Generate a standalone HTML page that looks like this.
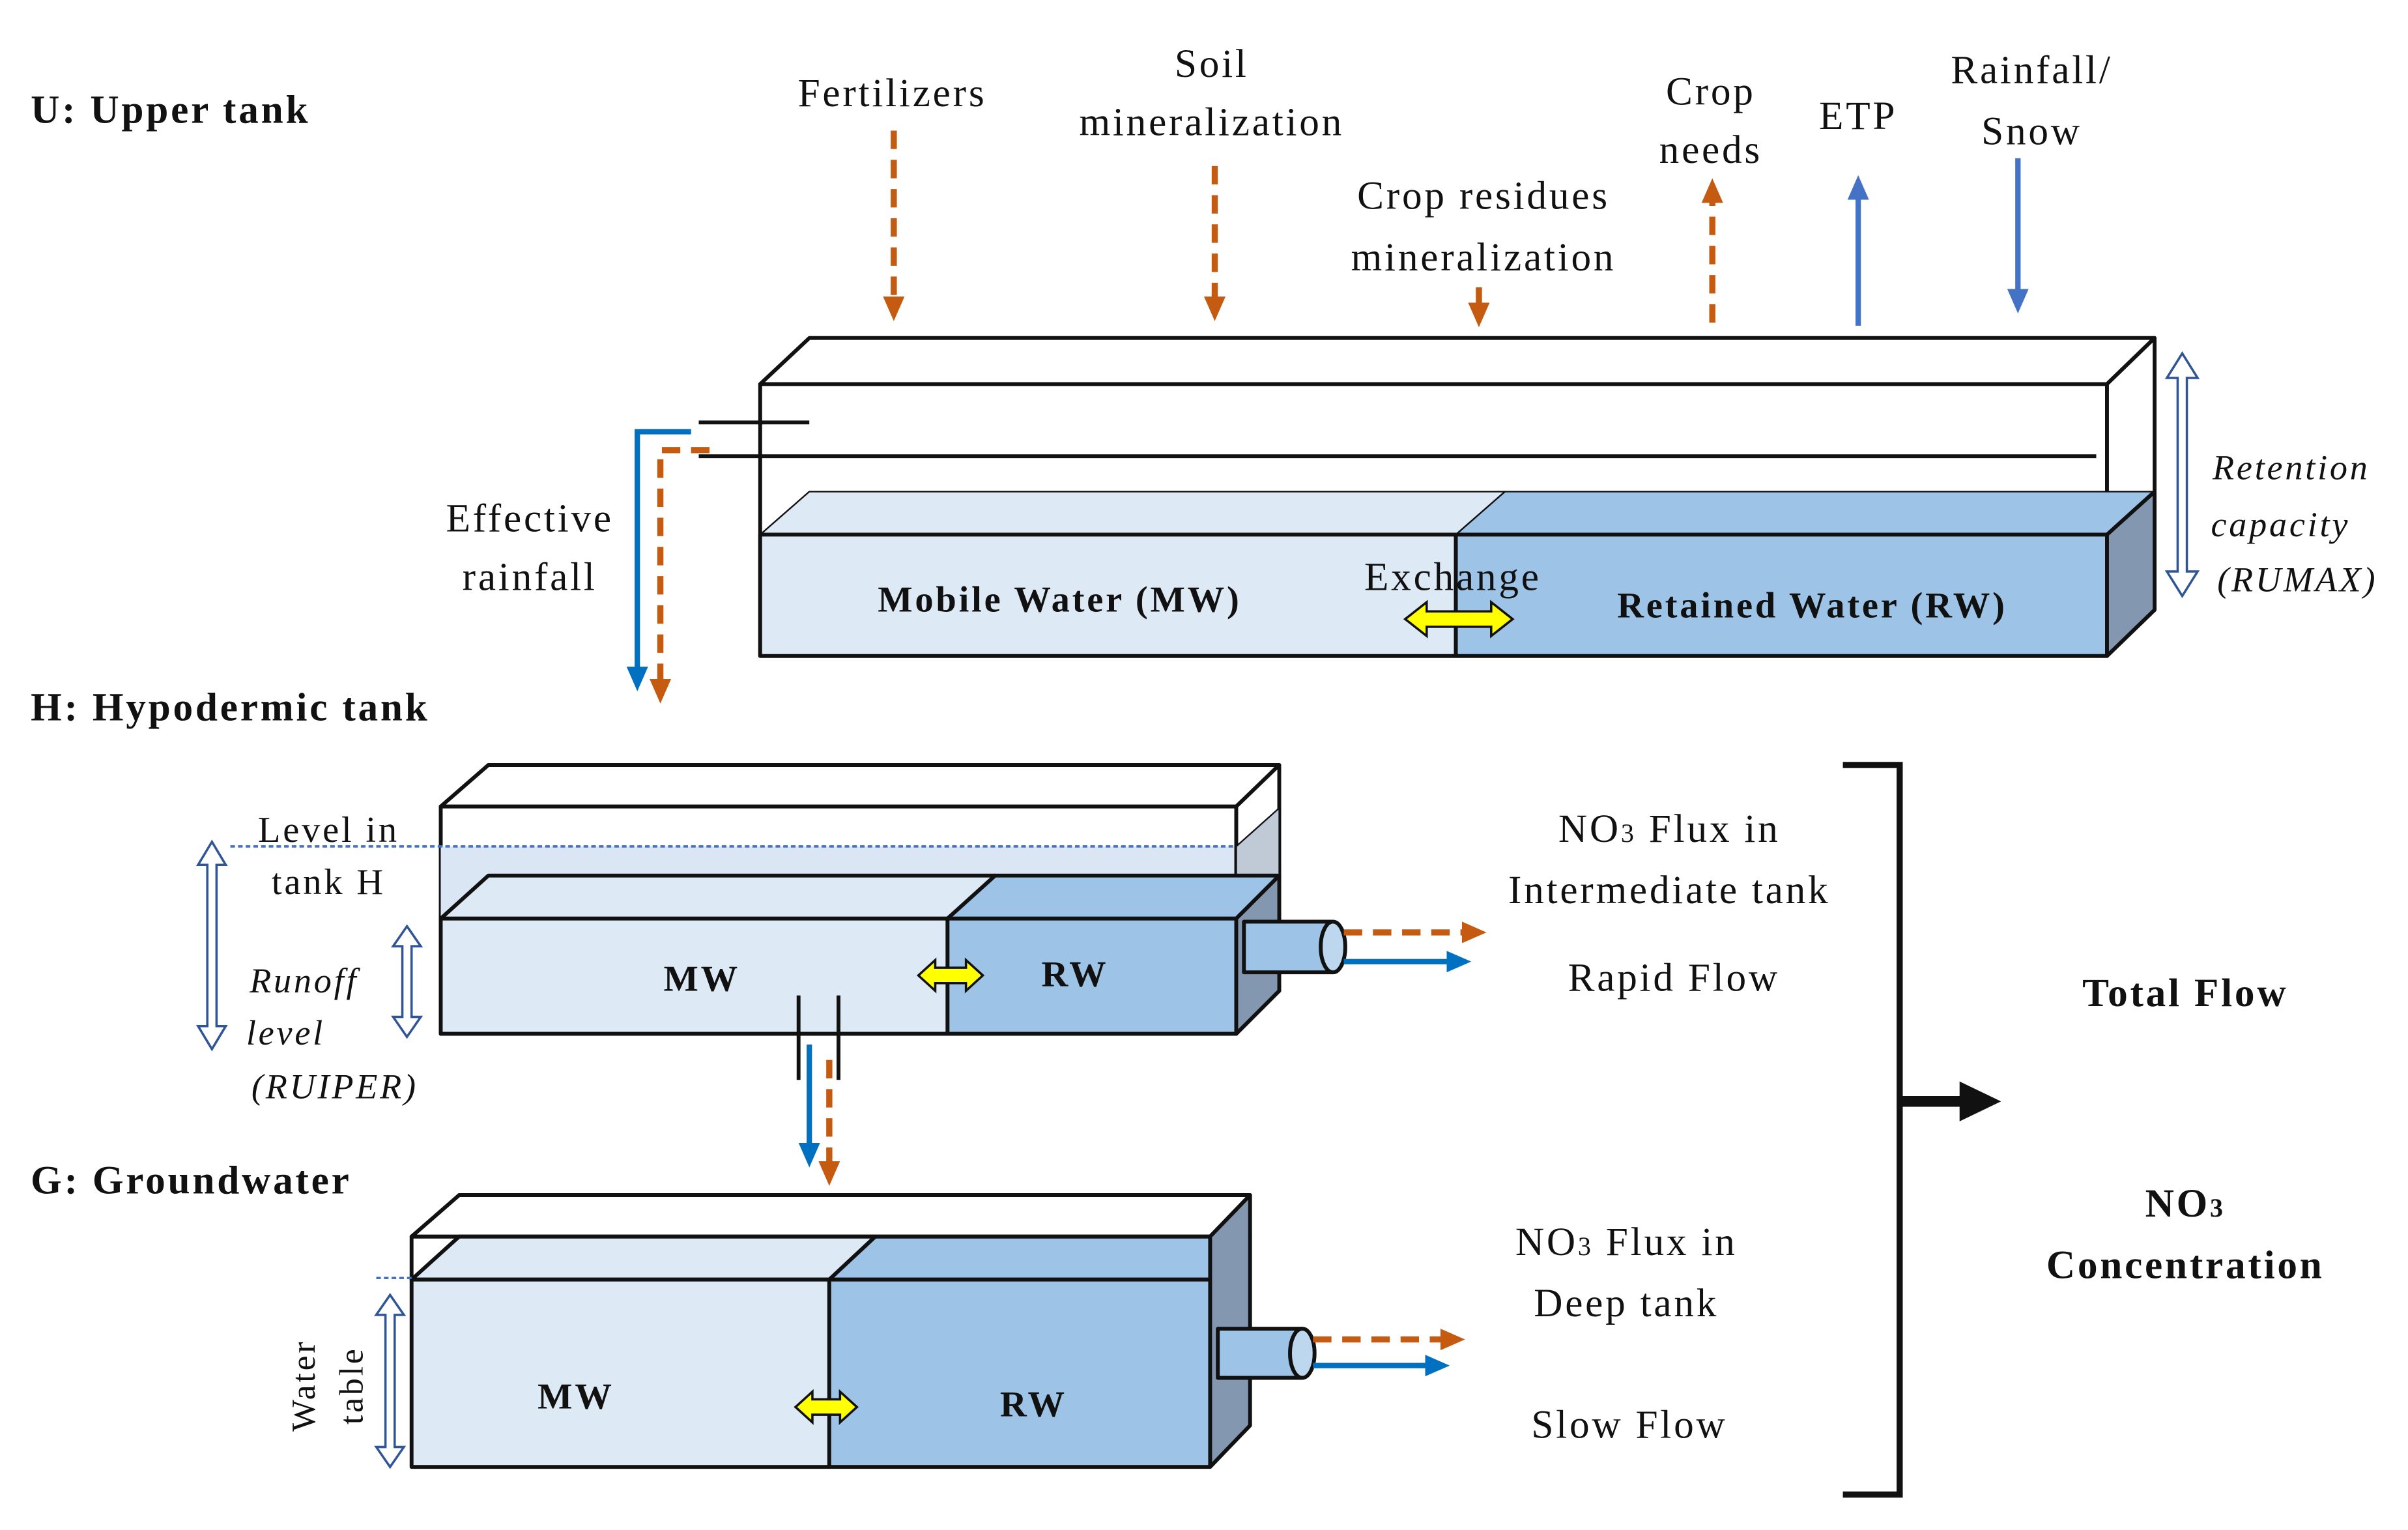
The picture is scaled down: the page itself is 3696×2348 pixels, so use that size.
<!DOCTYPE html>
<html><head><style>html,body{margin:0;padding:0;background:#fff}svg{display:block}text{font-family:"Liberation Serif",serif;fill:#111;letter-spacing:1.6px}</style></head>
<body>
<svg width="3696" height="2348" viewBox="0 0 1568 996" xmlns="http://www.w3.org/2000/svg">
<defs>
<marker id="ao" markerWidth="16" markerHeight="16" refX="10" refY="8" orient="auto" markerUnits="userSpaceOnUse" viewBox="0 0 16 16"><path d="M0,1 L16,8 L0,15z" fill="#c55a11"/></marker>
<marker id="ab" markerWidth="16" markerHeight="16" refX="10" refY="8" orient="auto" markerUnits="userSpaceOnUse" viewBox="0 0 16 16"><path d="M0,1 L16,8 L0,15z" fill="#4472c4"/></marker>
<marker id="ab2" markerWidth="16" markerHeight="16" refX="10" refY="8" orient="auto" markerUnits="userSpaceOnUse" viewBox="0 0 16 16"><path d="M0,1 L16,8 L0,15z" fill="#0070c0"/></marker>
</defs>
<g stroke="#111" stroke-width="2.5" stroke-linejoin="round">
<polygon points="495,250 527,220 1403,220 1372,250" fill="#fff"/>
<rect x="495" y="250" width="877" height="177" fill="#fff"/>
<polygon points="1372,250 1403,220 1403,397 1372,427" fill="#fff"/>
<polygon points="495,348 527,320 980,320 948,348" fill="#dde9f5" stroke-width="1"/>
<polygon points="948,348 980,320 1403,320 1372,348" fill="#9dc3e6" stroke-width="1"/>
<rect x="495" y="348" width="453" height="79" fill="#dde9f5"/>
<rect x="948" y="348" width="424" height="79" fill="#9dc3e6"/>
<polygon points="1372,348 1403,320 1403,397 1372,427" fill="#8497b0"/>
<line x1="455" y1="275" x2="527" y2="275"/>
<line x1="455" y1="297" x2="1365" y2="297"/>
<polygon points="287,525 318,498 833,498 805,525" fill="#fff"/>
<rect x="287" y="525" width="518" height="148" fill="#fff"/>
<rect x="287" y="551" width="518" height="47" fill="#dae6f3" stroke="none"/>
<polygon points="805,525 833,498 833,645 805,673" fill="#fff"/>
<polygon points="805,551 833,526 833,570 805,598" fill="#c0cad6" stroke-width="1"/>
<polygon points="287,598 318,570 648,570 617,598" fill="#dde9f5"/>
<polygon points="617,598 648,570 833,570 805,598" fill="#9dc3e6"/>
<rect x="287" y="598" width="330" height="75" fill="#dde9f5"/>
<rect x="617" y="598" width="188" height="75" fill="#9dc3e6"/>
<polygon points="805,598 833,570 833,645 805,673" fill="#8497b0"/>
<rect x="810" y="600" width="58" height="33" fill="#9dc3e6"/>
<ellipse cx="868" cy="616.5" rx="8" ry="16.5" fill="#bdd7ee"/>
<line x1="520" y1="648" x2="520" y2="703"/><line x1="546" y1="648" x2="546" y2="703"/>
<polygon points="268,805 299,778 814,778 788,805" fill="#fff"/>
<polygon points="268,833 299,805 570,805 540,833" fill="#dde9f5"/>
<polygon points="540,833 570,805 814,805 788,833" fill="#9dc3e6"/>
<rect x="268" y="805" width="520" height="28" fill="none"/>
<rect x="268" y="833" width="272" height="122" fill="#dde9f5"/>
<rect x="540" y="833" width="248" height="122" fill="#9dc3e6"/>
<polygon points="788,805 814,778 814,928 788,955" fill="#8497b0"/>
<rect x="793" y="865" width="55" height="32" fill="#9dc3e6"/>
<ellipse cx="848" cy="881" rx="8" ry="16" fill="#bdd7ee"/>
</g>
<line x1="150" y1="551" x2="805" y2="551" stroke="#4472c4" stroke-width="1.5" stroke-dasharray="3,2"/>
<line x1="245" y1="832" x2="268" y2="832" stroke="#4472c4" stroke-width="1.5" stroke-dasharray="3,2"/>
<g stroke="#c55a11" stroke-width="4" stroke-dasharray="12,7" fill="none">
<line x1="582" y1="85" x2="582" y2="203" marker-end="url(#ao)"/>
<line x1="791" y1="108" x2="791" y2="203" marker-end="url(#ao)"/>
<line x1="963" y1="187" x2="963" y2="207" marker-end="url(#ao)"/>
<line x1="1115" y1="210" x2="1115" y2="122" marker-end="url(#ao)"/>
<polyline points="462,293 430,293 430,452" marker-end="url(#ao)"/>
<line x1="875" y1="607" x2="962" y2="607" marker-end="url(#ao)"/>
<line x1="540" y1="690" x2="540" y2="766" marker-end="url(#ao)"/>
<line x1="855" y1="872" x2="948" y2="872" marker-end="url(#ao)"/>
</g>
<g stroke-width="3.5" fill="none">
<line x1="1210" y1="212" x2="1210" y2="120" stroke="#4472c4" marker-end="url(#ab)"/>
<line x1="1314" y1="103" x2="1314" y2="198" stroke="#4472c4" marker-end="url(#ab)"/>
<polyline points="450,281 415,281 415,444" stroke="#0070c0" marker-end="url(#ab2)"/>
<line x1="875" y1="626" x2="952" y2="626" stroke="#0070c0" marker-end="url(#ab2)"/>
<line x1="527" y1="680" x2="527" y2="754" stroke="#0070c0" marker-end="url(#ab2)"/>
<line x1="855" y1="889" x2="938" y2="889" stroke="#0070c0" marker-end="url(#ab2)"/>
</g>
<g fill="#fff" stroke="#2f5597" stroke-width="1.5">
<path d="M1421,230 l-10,16 h7 v126 h-7 l10,16 l10,-16 h-7 v-126 h7z"/>
<path d="M138,548 l-9,15 h6 v105 h-6 l9,15 l9,-15 h-6 v-105 h6z"/>
<path d="M265,603 l-9,13 h6 v46 h-6 l9,13 l9,-13 h-6 v-46 h6z"/>
<path d="M254,843 l-9,13 h6 v86 h-6 l9,13 l9,-13 h-6 v-86 h6z"/>
</g>
<g fill="#ffff00" stroke="#111" stroke-width="1.5">
<path d="M915,403 l14,-11 v6 h42 v-6 l14,11 l-14,11 v-6 h-42 v6z"/>
<path d="M598,635 l11,-10 v5 h20 v-5 l11,10 l-11,10 v-5 h-20 v5z"/>
<path d="M518,916 l11,-10 v5 h18 v-5 l11,10 l-11,10 v-5 h-18 v5z"/>
</g>
<polyline points="1200,498 1237,498 1237,973 1200,973" fill="none" stroke="#111" stroke-width="4"/>
<line x1="1237" y1="717" x2="1280" y2="717" stroke="#111" stroke-width="7"/>
<path d="M1276,704 L1303,717 L1276,730z" fill="#111"/>
<g font-size="26">
<g style="letter-spacing:2.6px">
<text x="20" y="80" font-weight="bold">U: Upper tank</text>
<text x="20" y="469" font-weight="bold">H: Hypodermic tank</text>
<text x="20" y="777" font-weight="bold">G: Groundwater</text>
</g>
<text x="581" y="69" text-anchor="middle">Fertilizers</text>
<text x="789" y="50" text-anchor="middle">Soil</text>
<text x="789" y="88" text-anchor="middle">mineralization</text>
<text x="966" y="136" text-anchor="middle">Crop residues</text>
<text x="966" y="176" text-anchor="middle">mineralization</text>
<text x="1114" y="68" text-anchor="middle">Crop</text>
<text x="1114" y="106" text-anchor="middle">needs</text>
<text x="1210" y="84" text-anchor="middle">ETP</text>
<text x="1323" y="54" text-anchor="middle">Rainfall/</text>
<text x="1323" y="94" text-anchor="middle">Snow</text>
<text x="345" y="346" text-anchor="middle">Effective</text>
<text x="345" y="384" text-anchor="middle">rainfall</text>
<text x="946" y="384" text-anchor="middle">Exchange</text>
<text x="690" y="398" text-anchor="middle" font-weight="bold" font-size="24">Mobile Water (MW)</text>
<text x="1180" y="402" text-anchor="middle" font-weight="bold" font-size="24">Retained Water (RW)</text>
<text x="214" y="548" text-anchor="middle" font-size="24">Level in</text>
<text x="214" y="582" text-anchor="middle" font-size="24">tank H</text>
<text x="457" y="645" text-anchor="middle" font-weight="bold" font-size="24">MW</text>
<text x="700" y="642" text-anchor="middle" font-weight="bold" font-size="24">RW</text>
<text x="375" y="917" text-anchor="middle" font-weight="bold" font-size="24">MW</text>
<text x="673" y="922" text-anchor="middle" font-weight="bold" font-size="24">RW</text>
<g font-style="italic" font-size="23">
<text x="1492" y="312" text-anchor="middle">Retention</text>
<text x="1485" y="349" text-anchor="middle">capacity</text>
<text x="1496" y="385" text-anchor="middle">(RUMAX)</text>
<text x="198" y="646" text-anchor="middle">Runoff</text>
<text x="186" y="680" text-anchor="middle">level</text>
<text x="218" y="715" text-anchor="middle">(RUIPER)</text>
</g>
<text x="1087" y="548" text-anchor="middle">NO<tspan font-size="17">3</tspan> Flux in</text>
<text x="1087" y="588" text-anchor="middle">Intermediate tank</text>
<text x="1090" y="645" text-anchor="middle">Rapid Flow</text>
<text x="1059" y="817" text-anchor="middle">NO<tspan font-size="17">3</tspan> Flux in</text>
<text x="1059" y="857" text-anchor="middle">Deep tank</text>
<text x="1061" y="936" text-anchor="middle">Slow Flow</text>
<text x="1423" y="655" text-anchor="middle" font-weight="bold">Total Flow</text>
<text x="1423" y="792" text-anchor="middle" font-weight="bold">NO<tspan font-size="17">3</tspan></text>
<text x="1423" y="832" text-anchor="middle" font-weight="bold">Concentration</text>
<text transform="translate(205,902) rotate(-90)" text-anchor="middle" font-size="22">Water</text>
<text transform="translate(236,902) rotate(-90)" text-anchor="middle" font-size="22">table</text>
</g>
</svg>
</body></html>
